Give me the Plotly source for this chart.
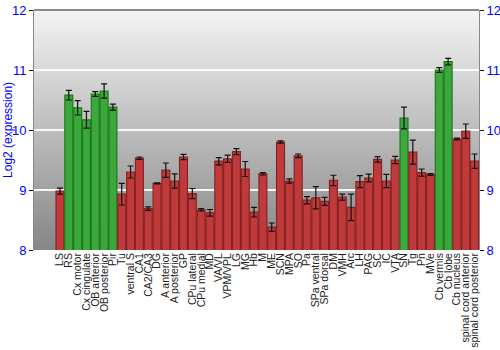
import plotly.graph_objects as go

categories = ["LS", "RS", "Cx motor", "Cx cingulate", "OB anterior", "OB posterior", "Pir", "Tu",
              "ventral S", "CA1", "CA2/CA3", "DG", "A anterior", "A posterior", "GP", "CPu lateral",
              "CPu medial", "MD", "VA/VL", "VPM/VPL", "LG", "MG", "Hb", "M", "ME", "SCN", "MPA", "SO",
              "Pa", "SPa ventral", "SPa dorsal", "DM", "VMH", "Arc", "LH", "PAG", "SC", "IC", "VTA",
              "SN", "Tg", "Pn", "MVe", "Cb vermis", "Cb lobe", "Cb nucleus", "spinal cord anterior",
              "spinal cord posterior"]
values = [8.98, 10.58, 10.37, 10.17, 10.60, 10.65, 10.38, 8.93,
          9.30, 9.53, 8.69, 9.11, 9.33, 9.15, 9.55, 8.94,
          8.67, 8.62, 9.48, 9.52, 9.64, 9.35, 8.63, 9.27, 8.38, 9.80, 9.15, 9.57,
          8.83, 8.87, 8.81, 9.16, 8.88, 8.71, 9.14, 9.20, 9.51, 9.15, 9.50,
          10.20, 9.63, 9.29, 9.26, 11.00, 11.14, 9.85, 9.98, 9.48]
errors = [0.05, 0.08, 0.12, 0.14, 0.04, 0.12, 0.05, 0.18,
          0.10, 0.02, 0.03, 0.01, 0.12, 0.12, 0.045, 0.085,
          0.02, 0.055, 0.06, 0.06, 0.05, 0.125, 0.08, 0.02, 0.07, 0.02, 0.035, 0.03,
          0.06, 0.185, 0.066, 0.086, 0.05, 0.22, 0.10, 0.065, 0.045, 0.11, 0.06,
          0.18, 0.20, 0.06, 0.015, 0.04, 0.055, 0.015, 0.12, 0.12]
green_set = {"RS", "Cx motor", "Cx cingulate", "OB anterior", "OB posterior", "Pir", "SN", "Cb vermis", "Cb lobe"}
y_ticks = [8, 9, 10, 11, 12]
y_title = "Log2 (expression)"

fill = ["#3aa83a" if c in green_set else "#c03a3c" for c in categories]
edge = ["#1f7a1f" if c in green_set else "#8a2222" for c in categories]

fig = go.Figure()
fig.add_trace(go.Bar(
    x=categories, y=values, base=0,
    marker=dict(color=fill, line=dict(color=edge, width=1.2)),
    error_y=dict(type="data", array=errors, color="#111111", thickness=1.2, width=3),
    showlegend=False,
))
fig.add_trace(go.Scatter(x=[categories[0]], y=[None], yaxis="y2", showlegend=False, hoverinfo="skip"))

# gradient background
n = 60
shapes = []
top = (243, 243, 243)
bot = (135, 135, 135)
for i in range(n):
    t = i / (n - 1)
    c = tuple(int(round(top[k] + (bot[k] - top[k]) * t)) for k in range(3))
    shapes.append(dict(type="rect", xref="paper", yref="paper", x0=0, x1=1,
                       y0=1 - (i + 1) / n, y1=1 - i / n + 0.002,
                       fillcolor="rgb(%d,%d,%d)" % c, line=dict(width=0), layer="below"))
shapes.append(dict(type="line", xref="paper", yref="paper", x0=0, x1=1, y0=1, y1=1,
                   line=dict(color="#666666", width=1.5)))

fig.update_layout(
    width=500, height=350,
    margin=dict(l=34, r=21, t=10, b=100, autoexpand=False),
    paper_bgcolor="white", plot_bgcolor="rgba(0,0,0,0)",
    font=dict(family="Liberation Sans, Arial, sans-serif", color="#222222"),
    bargap=0.1,
    shapes=shapes,
    annotations=[dict(text=y_title, xref="paper", yref="paper", x=-0.0585, y=0.5,
                      xanchor="center", yanchor="middle", textangle=-90, showarrow=False,
                      font=dict(size=12, color="#0000ff"))],
    xaxis=dict(tickangle=-90, tickmode="array", tickvals=categories, ticktext=categories,
               tickfont=dict(size=10.5, color="#222222"), showgrid=False,
               ticks="", showline=False, automargin=False),
    yaxis=dict(range=[8, 12], tickvals=y_ticks, ticks="outside", ticklen=4, tickcolor="#111111",
               showline=True, linecolor="#888888", linewidth=1, automargin=False,
               gridcolor="rgba(255,255,255,0.9)", gridwidth=2,
               tickfont=dict(size=13, color="#0000ff")),
    yaxis2=dict(range=[8, 12], tickvals=y_ticks, overlaying="y", side="right", ticks="outside",
                ticklen=4, tickcolor="#111111", showline=True, linecolor="#888888", linewidth=1,
                automargin=False,
                showgrid=False, tickfont=dict(size=13, color="#0000ff")),
)

fig.write_html("out.html")
